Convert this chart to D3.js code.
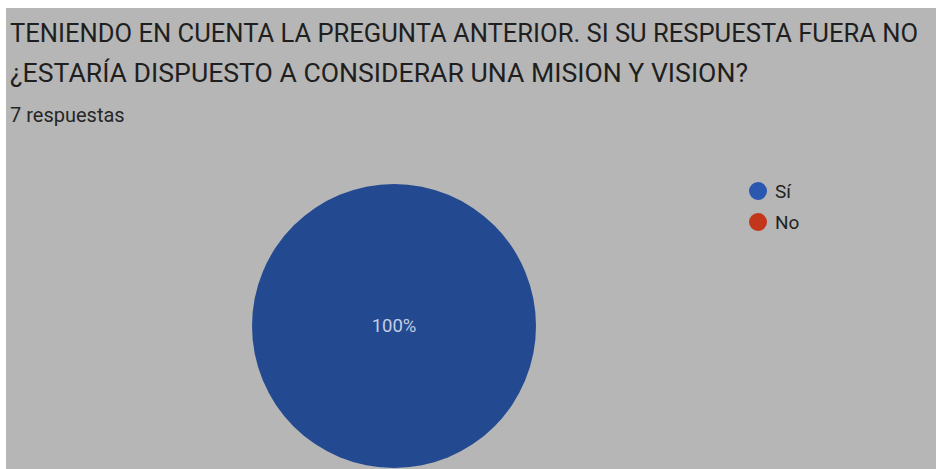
<!DOCTYPE html>
<html><head><meta charset="utf-8">
<script src="https://cdn.jsdelivr.net/npm/d3@7"></script>
<style>html,body{margin:0;padding:0;background:#fff;overflow:hidden}</style>
</head><body>
<script>
const titleLines = ["TENIENDO EN CUENTA LA PREGUNTA ANTERIOR. SI SU RESPUESTA FUERA NO", "¿ESTARÍA DISPUESTO A CONSIDERAR UNA MISION Y VISION?"];
const titleWidths = [908, 738];
const subtitle = "7 respuestas";
const categories = ["Sí", "No"];
const values = [7, 0];
const colors = ["#234991", "#c2361b"];
const legendColors = ["#2a57b0", "#c2361b"];

const W = 936, H = 469;
const svg = d3.select("body").append("svg").attr("width", W).attr("height", H);
svg.append("rect").attr("x", 6).attr("y", 8).attr("width", W - 6).attr("height", H - 8).attr("fill", "#b6b6b6");

const tl = svg.append("g").attr("font-family", "Roboto, sans-serif").attr("fill", "#1f1f1f");
tl.selectAll("text").data(titleLines).join("text")
  .attr("x", 10).attr("y", (d, i) => 42 + i * 40)
  .attr("font-size", 25)
  .attr("textLength", (d, i) => titleWidths[i]).attr("lengthAdjust", "spacingAndGlyphs")
  .text(d => d);
tl.append("text").attr("x", 10).attr("y", 122).attr("font-size", 20).attr("fill", "#262626").text(subtitle);

const data = categories.map((c, i) => ({ cat: c, value: values[i], color: colors[i] }));
const total = d3.sum(values);
const pie = d3.pie().sort(null).value(d => d.value);
const r = 142;
const arc = d3.arc().innerRadius(0).outerRadius(r);
const g = svg.append("g").attr("transform", "translate(394,326)");
g.selectAll("path").data(pie(data)).join("path")
  .attr("d", arc).attr("fill", d => d.data.color);
g.selectAll("text").data(pie(data).filter(d => d.data.value > 0)).join("text")
  .attr("transform", d => d.endAngle - d.startAngle > 6.2 ? "translate(0,0)" : `translate(${arc.centroid(d)})`)
  .attr("text-anchor", "middle").attr("dy", "0.35em")
  .attr("font-family", "Roboto, sans-serif").attr("font-size", 18.5)
  .attr("fill", "#c3cde2")
  .text(d => Math.round(d.data.value / total * 100) + "%");

const lg = svg.append("g").attr("font-family", "Roboto, sans-serif");
const items = lg.selectAll("g").data(categories).join("g")
  .attr("transform", (d, i) => `translate(758,${191 + i * 31})`);
items.append("circle").attr("r", 9).attr("fill", (d, i) => legendColors[i]);
items.append("text").attr("x", 17).attr("dy", "0.35em").attr("font-size", 19).attr("fill", "#222").text(d => d);
</script>
</body></html>
